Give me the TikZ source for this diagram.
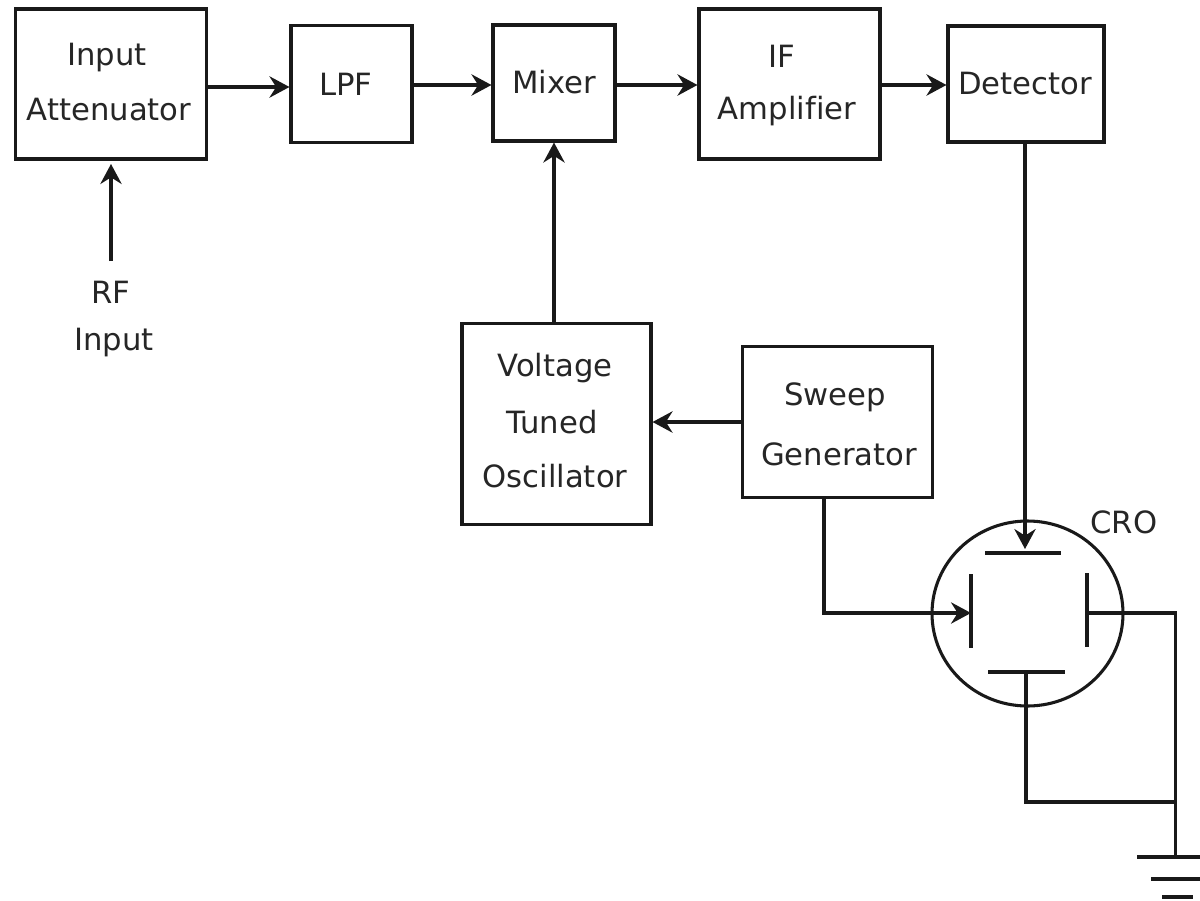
\documentclass[tikz,border=0pt]{standalone}
\usepackage{fontspec}
\setmainfont[Ligatures=NoCommon]{DejaVu Sans}
\usetikzlibrary{arrows.meta,shapes.geometric}
\tikzset{
  blk/.style={draw=black!90,line width=2.3pt,fill=white,inner sep=0pt},
  wire/.style={draw=black!90,line width=2.3pt},
  arr/.style={wire,-{Stealth[length=15pt,width=16pt,inset=5pt]}},
  lbl/.style={font=\fontsize{23pt}{27pt}\selectfont,text=black!85,inner sep=0pt,align=center},
}
\begin{document}
\begin{tikzpicture}[x=0.75pt,y=-0.75pt]
\useasboundingbox (0,0) rectangle (1200,900);
\fill[white] (0,0) rectangle (1200,900);
\node[blk,minimum width=190.5pt*0.75,minimum height=150pt*0.75] (att) at (111,84) {};
\node[blk,minimum width=121pt*0.75,minimum height=117pt*0.75] (lpf) at (351.5,84) {};
\node[blk,minimum width=122pt*0.75,minimum height=116pt*0.75] (mix) at (554,83) {};
\node[blk,minimum width=181pt*0.75,minimum height=150pt*0.75] (ifa) at (789.5,84) {};
\node[blk,minimum width=156pt*0.75,minimum height=116pt*0.75] (det) at (1026,84) {};
\node[blk,minimum width=189pt*0.75,minimum height=201pt*0.75] (vto) at (556.5,424) {};
\node[blk,minimum width=190pt*0.75,minimum height=151pt*0.75] (swp) at (837.5,422) {};
\node[draw=black!90,line width=2.3pt,ellipse,minimum width=191pt*0.75,minimum height=185pt*0.75,inner sep=0pt] (cro) at (1027.5,613.5) {};
\node[lbl] (t1) at (107,58) {Input};
\node[lbl] (t2) at (109,110) {Attenuator};
\node[lbl] (t3) at (346,84) {LPF};
\node[lbl] (t4) at (554,82) {Mixer};
\node[lbl] (t5) at (782,56) {IF};
\node[lbl] (t6) at (787,111) {Amplifier};
\node[lbl] (t7) at (1025,84) {Detector};
\node[lbl] (t8) at (555,368) {Voltage};
\node[lbl] (t9) at (552,422) {Tuned};
\node[lbl] (t10) at (555,476) {Oscillator};
\node[lbl] (t11) at (835,397) {Sweep};
\node[lbl] (t12) at (839,454) {Generator};
\node[lbl] (t13) at (111,292) {RF};
\node[lbl] (t14) at (114,343) {Input};
\node[lbl] (t15) at (1124,522) {CRO};
\coordinate (rfs) at (111,261);
\coordinate (dl) at (971,613);
\coordinate (dr) at (1087,613);
\coordinate (db) at (1026,672);
\coordinate (gj) at (1175.5,802);
\coordinate (gt) at (1175.5,857);
\draw[arr] (att.east|-0,87) -- (lpf.west|-0,87);
\draw[arr] (lpf.east|-0,85) -- (mix.west|-0,85);
\draw[arr] (mix.east|-0,85) -- (ifa.west|-0,85);
\draw[arr] (ifa.east|-0,85) -- (det.west|-0,85);
\draw[arr] (rfs) -- (111,164);
\draw[arr] (vto.north-|554,0) -- (mix.south-|554,0);
\draw[arr] (swp.west|-0,422) -- (vto.east|-0,422);
\draw[arr] (det.south-|1025,0) -- (1025,549);
\draw[arr] (swp.south-|824,0) -- (824,613) -- (dl);
\draw[wire] (985,553) -- (1061,553);
\draw[wire] (971,574) -- (971,648);
\draw[wire] (1087,573) -- (1087,647);
\draw[wire] (988,672) -- (1065,672);
\draw[wire] (db) -- (1026,802) -- (gj);
\draw[wire] (dr) -- (1175.5,613) -- (gt);
\draw[wire] (1137,857) -- (1200,857);
\draw[wire] (1151,879) -- (1200,879);
\draw[wire] (1162,897) -- (1193,897);
\end{tikzpicture}
\end{document}
